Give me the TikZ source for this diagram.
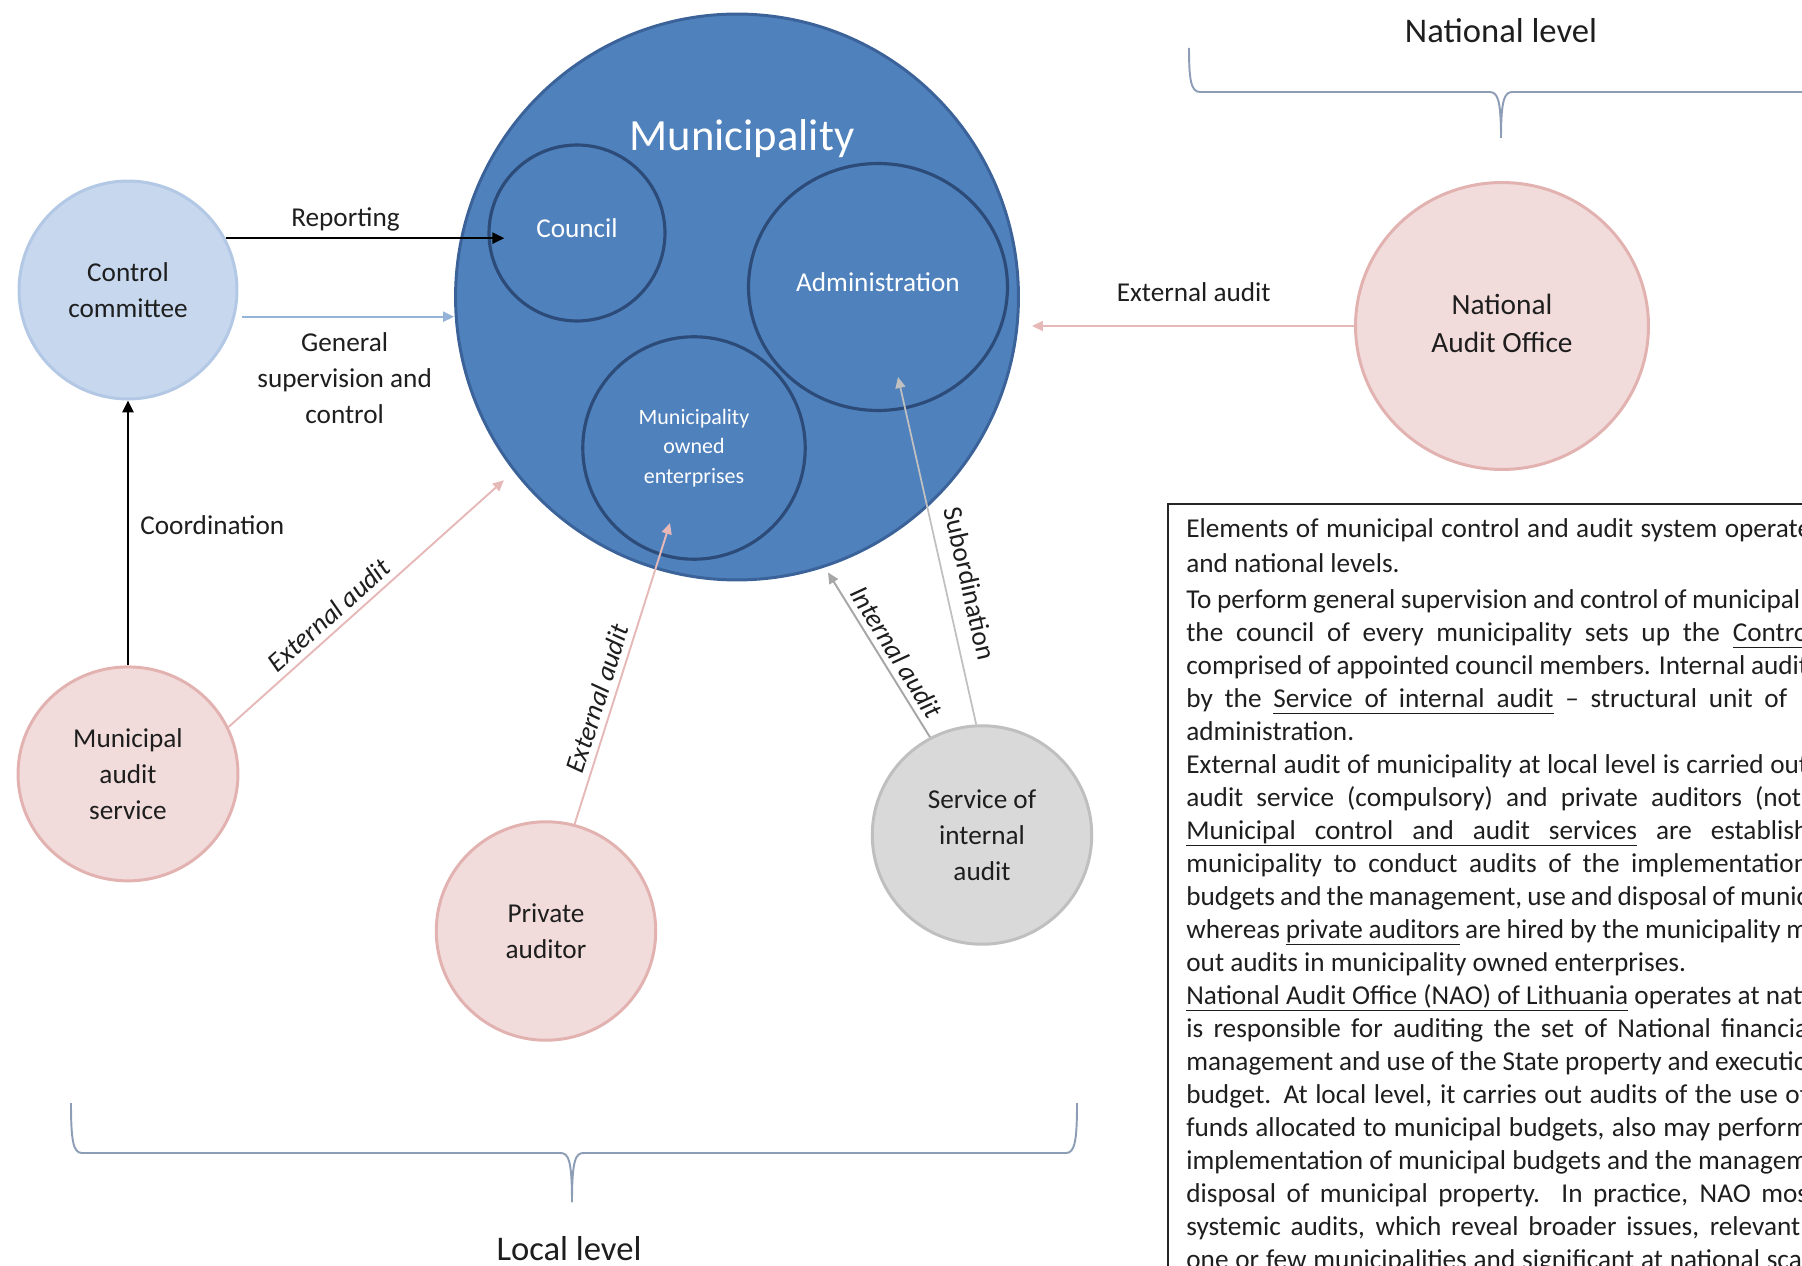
\documentclass[tikz,border=0pt]{standalone}
\usepackage{fontspec}
\setmainfont{Carlito}
\usetikzlibrary{positioning,arrows.meta,shapes.geometric,calc}
\definecolor{muni}{HTML}{4F81BD}
\definecolor{munirim}{HTML}{3B639A}
\definecolor{unitrim}{HTML}{2C4B78}
\definecolor{ccfill}{HTML}{C6D7EE}
\definecolor{ccrim}{HTML}{B3C8E5}
\definecolor{pinkfill}{HTML}{F2DCDB}
\definecolor{pinkrim}{HTML}{E2B2B1}
\definecolor{greyfill}{HTML}{D9D9D9}
\definecolor{greyrim}{HTML}{BFBFBF}
\definecolor{supblue}{HTML}{95B3D7}
\definecolor{extpink}{HTML}{E6B9B8}
\definecolor{intgrey}{HTML}{A6A6A6}
\definecolor{subgrey}{HTML}{C0C0C0}
\definecolor{bracegrey}{HTML}{8C9DB5}
\definecolor{ink}{HTML}{1E1E1E}
\newcommand\lblfont{\fontsize{15.5}{20.5}\selectfont}
\newcommand\unitfont{\fontsize{12.5}{17}\selectfont}
\newcommand\titlefont{\fontsize{25.4}{30}\selectfont}
\newcommand\levelfont{\fontsize{19.7}{24}\selectfont}
\newcommand\naofont{\fontsize{16.7}{21.6}\selectfont}
\newcommand\notefont{\fontsize{15.5}{18.8}\selectfont}
% underlined word and underlined (stretchable) space
\newcommand\ulword[1]{\setbox0=\hbox{#1}\rlap{\vrule height -3.1pt depth 3.9pt width \wd0}\box0\relax}
\newcommand\ulspace{\leaders\hrule height -3.1pt depth 3.9pt\hskip\fontdimen2\font plus\fontdimen3\font minus\fontdimen4\font}
\newcommand\liftlines[2]{\raisebox{#1}{\begin{tabular}{@{}c@{}}#2\end{tabular}}}
\tikzset{
  actor/.style  = {ellipse, line width=1.7pt, align=center, inner sep=0pt,
                   text=ink, font=\lblfont},
  blueactor/.style = {actor, fill=ccfill, draw=ccrim},
  pinkactor/.style = {actor, fill=pinkfill, draw=pinkrim},
  greyactor/.style = {actor, fill=greyfill, draw=greyrim},
  unit/.style   = {ellipse, line width=1.8pt, fill=muni, draw=unitrim, align=center,
                   inner sep=0pt, text=white, font=\lblfont},
  report/.style = {-{Triangle[length=2.4mm,width=2.2mm]}, line width=1.4pt, draw=black},
  supflow/.style = {-{Triangle[length=2.2mm,width=2mm]}, line width=1.3pt, draw=supblue},
  extflow/.style = {-{Triangle[length=2.2mm,width=2mm]}, line width=1.1pt, draw=extpink},
  intflow/.style = {-{Triangle[length=2.2mm,width=2mm]}, line width=1.1pt, draw=intgrey},
  subflow/.style = {-{Triangle[length=2.2mm,width=2mm]}, line width=1pt, draw=subgrey},
  lbl/.style    = {font=\lblfont, text=ink, align=center},
  ilbl/.style   = {font=\lblfont\itshape, text=ink},
  brace/.style  = {line width=1.1pt, draw=bracegrey},
}

\begin{document}
\begin{tikzpicture}[x=0.02cm, y=-0.02cm]
  \useasboundingbox (0,0) rectangle (1802,1266);
  \clip (0,0) rectangle (1802,1266);

  % municipality and its bodies
  \node[unit, draw=munirim, line width=1.7pt, minimum width=11.26cm, minimum height=11.32cm] (muni) at (737,297) {};
  \node[font=\titlefont, text=white] (munititle) at (742,139) {Municipality};
  \node[unit, minimum size=3.52cm] (council) at (577,233) {\raisebox{6pt}{Council}};
  \node[unit, minimum width=5.18cm, minimum height=4.94cm] (admin) at (878,287) {\raisebox{6pt}{Administration}};
  \node[unit, minimum size=4.45cm, font=\unitfont] (moe) at (694,448) {\liftlines{3pt}{Municipality\\owned\\enterprises}};

  % control and audit bodies
  \node[blueactor, minimum size=4.36cm] (cc) at (128,290) {Control\\committee};
  \node[pinkactor, minimum width=4.4cm, minimum height=4.28cm, below=5.3cm of cc] (mas) {Municipal\\audit\\service};
  \node[pinkactor, minimum width=4.39cm, minimum height=4.37cm] (pa) at (546,931) {Private\\auditor};
  \node[greyactor, minimum width=4.39cm, minimum height=4.37cm] (sia) at (982,835) {Service of\\internal\\audit};
  \node[pinkactor, minimum width=5.86cm, minimum height=5.74cm, font=\naofont] (nao) at (1502,326) {\liftlines{2.5pt}{National\\Audit Office}};

  % relations
  \draw[report] (cc.28) -- ($(council.west |- cc.28)+(17,0)$) node[lbl, above, pos=0.43] (replbl) {Reporting};
  \draw[supflow, shorten <=0.14cm] (cc.-14) -- (cc.-14 -| muni.west) node[lbl, below=5pt, midway] (suplbl) {General\\supervision and\\control};
  \draw[report] (mas.north) -- (mas.north |- cc.south) node[lbl, right=3pt, pos=0.53] (coordlbl) {Coordination};
  \draw[extflow, shorten >=0.26cm] (mas.25) -- (muni.218) node[ilbl, sloped, above, pos=0.39] (extlbl) {External audit};
  \draw[extflow] (pa.75) -- ($(moe.center)+(-24,75)$) node[ilbl, sloped, above, pos=0.4] (prvlbl) {External audit};
  \draw[intflow, shorten >=0.12cm] (sia.118) -- (muni.-72) node[ilbl, sloped, above, pos=0.45] (intlbl) {Internal audit};
  \draw[subflow] (sia.93) -- ($(admin.center)+(20,90)$) node[lbl, sloped, above=5pt, pos=0.39] (sublbl) {Subordination};
  \draw[extflow, shorten >=0.24cm] (nao.west) -- (nao.west -| muni.east) node[lbl, above=10pt, pos=0.48] (natextlbl) {External audit};

  % levels
  \draw[brace] (71,1103) .. controls (71,1140) and (73,1153) .. (82,1153) -- (560,1153) .. controls (568,1153) and (572,1158) .. (572,1202);
  \draw[brace] (1077,1103) .. controls (1077,1140) and (1075,1153) .. (1066,1153) -- (584,1153) .. controls (576,1153) and (572,1158) .. (572,1202);
  \draw[brace] (1189,48) .. controls (1189,80) and (1191,92) .. (1200,92) -- (1489,92) .. controls (1497,92) and (1501,97) .. (1501,138);
  \draw[brace] (1813,48) .. controls (1813,80) and (1811,92) .. (1802,92) -- (1513,92) .. controls (1505,92) and (1501,97) .. (1501,138);
  \node[font=\levelfont, text=ink] (natlbl) at (1501,31) {National level};
  \node[font=\levelfont, text=ink] (loclbl) at (569,1249) {Local level};

  % explanation
  \draw[line width=0.8pt, draw=black!85] (1168,504) rectangle (1840,1300);
  \node[anchor=north west, align=left, inner sep=0pt, font=\notefont, text=ink] (note) at (1186,518) {%
    \makebox[12.50cm][s]{Elements of municipal control and audit system operate}\\[1.4pt]
    and national levels.\\[1.4pt]
    \makebox[12.28cm][s]{To perform general supervision and control of municipal}\\
    \makebox[12.44cm][s]{the council of every municipality sets up the \ulword{Contro}}\\
    \makebox[12.44cm][s]{comprised of appointed council members. Internal audit}\\
    \makebox[12.02cm][s]{by the \ulword{Service}\ulspace\ulword{of}\ulspace\ulword{internal}\ulspace\ulword{audit} – structural unit of}\\
    administration.\\
    \makebox[12.44cm][s]{External audit of municipality at local level is carried out}\\
    \makebox[12.30cm][s]{audit service (compulsory) and private auditors (not}\\
    \makebox[12.44cm][s]{\ulword{Municipal}\ulspace\ulword{control}\ulspace\ulword{and}\ulspace\ulword{audit}\ulspace\ulword{services} are establish}\\
    \makebox[12.44cm][s]{municipality to conduct audits of the implementation}\\
    \makebox[12.44cm][s]{budgets and the management, use and disposal of munic}\\
    \makebox[12.44cm][s]{whereas \ulword{private}\ulspace\ulword{auditors} are hired by the municipality m}\\
    out audits in municipality owned enterprises.\\
    \makebox[12.44cm][s]{\ulword{National}\ulspace\ulword{Audit}\ulspace\ulword{Office}\ulspace\ulword{(NAO)}\ulspace\ulword{of}\ulspace\ulword{Lithuania} operates at nati}\\
    \makebox[12.44cm][s]{is responsible for auditing the set of National financia}\\
    \makebox[12.44cm][s]{management and use of the State property and executio}\\
    \makebox[12.44cm][s]{budget. At local level, it carries out audits of the use of}\\
    \makebox[12.44cm][s]{funds allocated to municipal budgets, also may perform}\\
    \makebox[12.44cm][s]{implementation of municipal budgets and the managem}\\
    \makebox[12.44cm][s]{disposal of municipal property. In practice, NAO mos}\\
    \makebox[12.28cm][s]{systemic audits, which reveal broader issues, relevant}\\
    \makebox[12.44cm][s]{one or few municipalities and significant at national scal}};
\end{tikzpicture}
\end{document}
